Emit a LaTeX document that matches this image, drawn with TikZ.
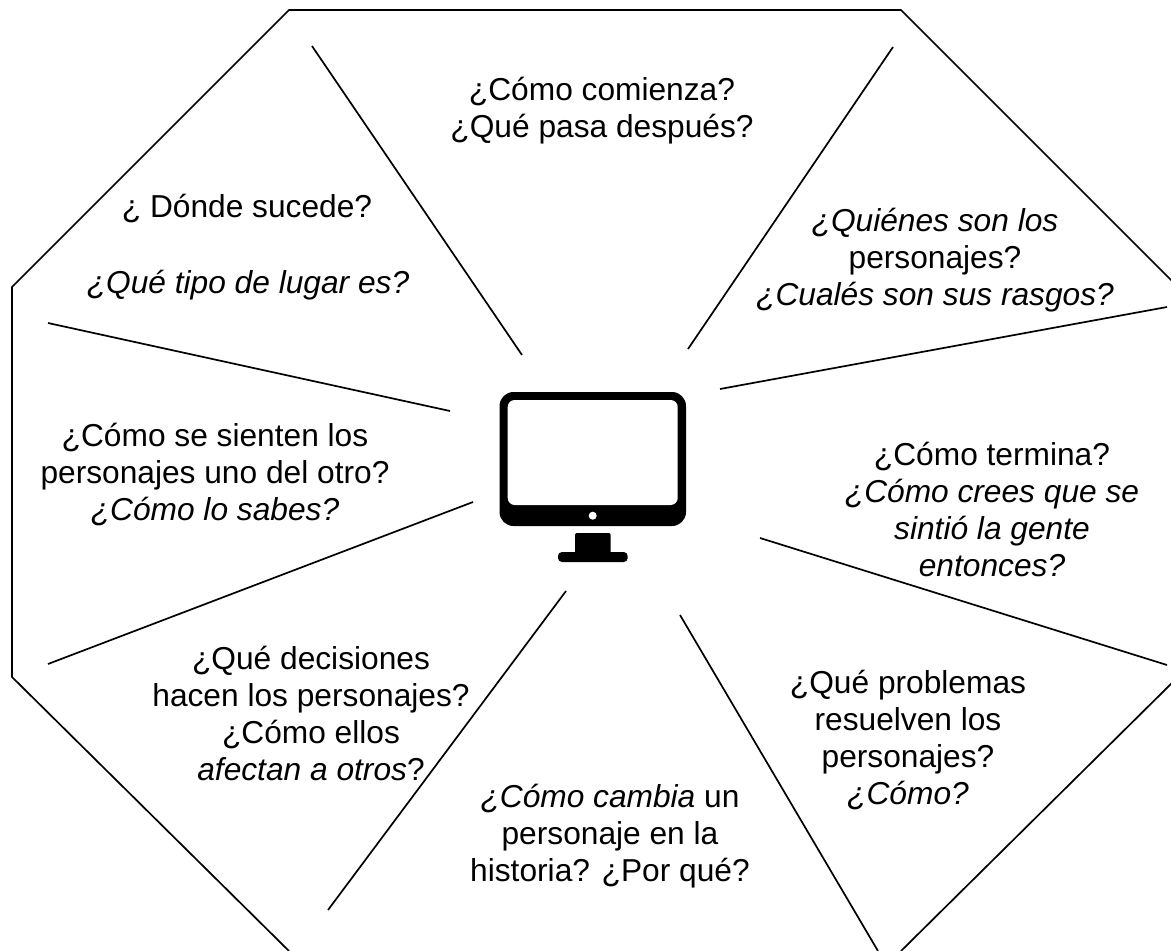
\documentclass[tikz,border=0pt]{standalone}
\usepackage{fontspec}
\setmainfont{Liberation Sans}
\begin{document}
\begin{tikzpicture}[x=1pt,y=-1pt,line width=1.7pt,
 lbl/.style={align=center,font=\fontsize{31.7}{36.8}\selectfont,inner sep=0pt,anchor=base}]
\useasboundingbox (0,0) rectangle (1171,951);
\clip (0,0) rectangle (1171,951);
\draw (289,951) -- (12,677) -- (12,287) -- (289,10) -- (901,10) -- (1178,287) -- (1178,677) -- (901,951);
\coordinate (a1) at (312,46); \coordinate (a2) at (522,355);
\coordinate (b1) at (893,47); \coordinate (b2) at (688,349);
\coordinate (c1) at (1167,307); \coordinate (c2) at (720,389);
\coordinate (d1) at (1167,665); \coordinate (d2) at (760,538);
\coordinate (e1) at (878,951); \coordinate (e2) at (680,615);
\coordinate (f1) at (328,910); \coordinate (f2) at (566,591);
\coordinate (g1) at (48,664); \coordinate (g2) at (473,502);
\coordinate (h1) at (48,323); \coordinate (h2) at (450,411);
\foreach \p in {a,b,c,d,e,f,g,h} \draw (\p1) -- (\p2);
\node[lbl] (t1) at (602,137) {¿Cómo comienza?\\¿Qué pasa después?};
\node[lbl] (t2) at (935,305) {\textit{¿Quiénes son los}\\personajes?\\\textit{¿Cualés son sus rasgos?}};
\node[lbl] (t3) at (992,576) {¿Cómo termina?\\\textit{¿Cómo crees que se}\\\textit{sintió la gente}\\\textit{entonces?}};
\node[lbl] (t4) at (908,804) {¿Qué problemas\\resuelven los\\personajes?\\\textit{¿Cómo?}};
\node[lbl] (t5) at (610,881) {\textit{¿Cómo cambia} un\\personaje en la\\historia? ¿Por qué?};
\node[lbl] (t6) at (311,780) {¿Qué decisiones\\hacen los personajes?\\¿Cómo ellos\\\textit{afectan a otros}?};
\node[lbl] (t7) at (215,520) {¿Cómo se sienten los\\personajes uno del otro?\\\textit{¿Cómo lo sabes?}};
\node[lbl] (t8a) at (247,217) {¿ Dónde sucede?};
\node[lbl] (t8b) at (248,293) {\textit{¿Qué tipo de lugar es?}};
\fill[rounded corners=14pt] (499.5,392) rectangle (686,526);
\fill[white,rounded corners=7pt] (507.7,400) rectangle (677.7,505);
\fill[white] (592.7,515.7) circle (4);
\fill[rounded corners=2pt] (575,533) rectangle (610.7,556);
\fill[rounded corners=4pt] (558,552) rectangle (627.7,562);
\end{tikzpicture}
\end{document}
